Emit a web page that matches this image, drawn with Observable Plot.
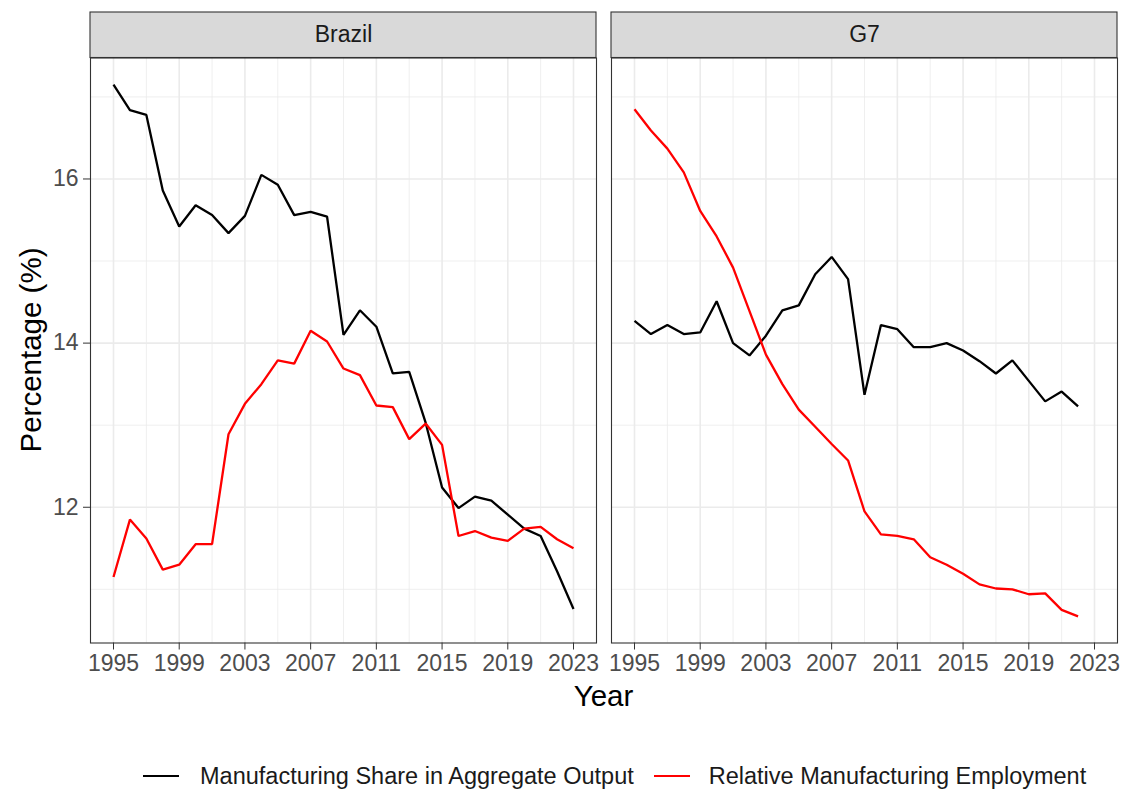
<!DOCTYPE html>
<html>
<head>
<meta charset="utf-8">
<script src="https://cdn.jsdelivr.net/npm/d3@7"></script>
<script src="https://cdn.jsdelivr.net/npm/@observablehq/plot@0.6"></script>
<style>
  html, body { margin: 0; padding: 0; background: #ffffff; }
  body { width: 1128px; height: 790px; position: relative; overflow: hidden;
         font-family: "Liberation Sans", Arial, sans-serif; }
  #chart { position: absolute; left: 0; top: 0; }
  #legend { position: absolute; left: 143px; top: 761px; height: 30px;
            display: flex; align-items: center; font-size: 23.5px; color: #1a1a1a; white-space: nowrap; }
  .key { width: 36px; height: 0; border-top: 2.4px solid #000; }
</style>
</head>
<body>
<div id="chart"></div>
<div id="legend"></div>
<script>
// ---- data ----
const regions = ["Brazil", "G7"];
const seriesNames = ["Manufacturing Share in Aggregate Output", "Relative Manufacturing Employment"];
const seriesColors = ["#000000", "#ff0000"];

const brazilYears = [1995, 1996, 1997, 1998, 1999, 2000, 2001, 2002, 2003, 2004, 2005, 2006, 2007, 2008, 2009,
                     2010, 2011, 2012, 2013, 2014, 2015, 2016, 2017, 2018, 2019, 2020, 2021, 2022, 2023];
const g7Years = [1995, 1996, 1997, 1998, 1999, 2000, 2001, 2002, 2003, 2004, 2005, 2006, 2007, 2008, 2009,
                 2010, 2011, 2012, 2013, 2014, 2015, 2016, 2017, 2018, 2019, 2020, 2021, 2022];

const brazilOutput = [17.15, 16.84, 16.78, 15.86, 15.42, 15.68, 15.56, 15.34, 15.55, 16.05, 15.93, 15.56, 15.60, 15.54, 14.10,
                      14.40, 14.20, 13.63, 13.65, 13.03, 12.24, 11.99, 12.13, 12.08, 11.91, 11.74, 11.65, 11.22, 10.76];
const brazilEmployment = [11.15, 11.85, 11.62, 11.24, 11.30, 11.55, 11.55, 12.89, 13.26, 13.50, 13.79, 13.75, 14.15, 14.02, 13.69,
                          13.61, 13.24, 13.22, 12.83, 13.02, 12.76, 11.65, 11.71, 11.63, 11.59, 11.74, 11.76, 11.61, 11.50];
const g7Output = [14.27, 14.11, 14.22, 14.11, 14.13, 14.51, 14.00, 13.85, 14.09, 14.40, 14.46, 14.84, 15.05, 14.78, 13.37,
                  14.22, 14.17, 13.95, 13.95, 14.00, 13.91, 13.78, 13.63, 13.79, 13.54, 13.29, 13.41, 13.23];
const g7Employment = [16.85, 16.59, 16.37, 16.08, 15.61, 15.30, 14.92, 14.39, 13.86, 13.50, 13.19, 12.98, 12.77, 12.57, 11.95,
                      11.67, 11.65, 11.61, 11.39, 11.30, 11.19, 11.06, 11.01, 11.00, 10.94, 10.95, 10.75, 10.67];

const xMajorTicks = [1995, 1999, 2003, 2007, 2011, 2015, 2019, 2023];
const xMinorTicks = [1997, 2001, 2005, 2009, 2013, 2017, 2021];
const yMajorTicks = [12, 14, 16];
const yMinorTicks = [11, 13, 15, 17];

// ---- build long table ----
const rows = [];
function add(region, series, years, values) {
  years.forEach((yr, i) => rows.push({region, series, year: yr, value: values[i]}));
}
add("Brazil", seriesNames[0], brazilYears, brazilOutput);
add("Brazil", seriesNames[1], brazilYears, brazilEmployment);
add("G7", seriesNames[0], g7Years, g7Output);
add("G7", seriesNames[1], g7Years, g7Employment);

const allVals = rows.map(d => d.value);
const yMin = d3.min(allVals), yMax = d3.max(allVals);
const yPad = (yMax - yMin) * 0.05;
const xPad = (2023 - 1995) * 0.05;

const W = 1128, H = 730;
const mTop = 57.5, mBottom = 87.5, mLeft = 89, mRight = 10;
const panelH = H - mTop - mBottom;

const font = "'Liberation Sans', Arial, sans-serif";

const plot = Plot.plot({
  width: W,
  height: H,
  marginTop: mTop,
  marginBottom: mBottom,
  marginLeft: mLeft,
  marginRight: mRight,
  style: {fontFamily: font, fontSize: "23px", background: "#ffffff", color: "#4d4d4d", overflow: "visible"},
  fx: {domain: regions, paddingInner: 0.0287, paddingOuter: 0, axis: null, label: null},
  x: {domain: [1995 - xPad, 2023 + xPad], label: null},
  y: {domain: [yMin - yPad, yMax + yPad], label: null},
  color: {domain: seriesNames, range: seriesColors},
  marks: [
    Plot.gridX(xMinorTicks, {stroke: "#ebebeb", strokeOpacity: 1, strokeWidth: 0.8}),
    Plot.gridY(yMinorTicks, {stroke: "#ebebeb", strokeOpacity: 1, strokeWidth: 0.8}),
    Plot.gridX(xMajorTicks, {stroke: "#ebebeb", strokeOpacity: 1, strokeWidth: 1.6}),
    Plot.gridY(yMajorTicks, {stroke: "#ebebeb", strokeOpacity: 1, strokeWidth: 1.6}),
    Plot.lineY(rows, {fx: "region", x: "year", y: "value", stroke: "series", z: "series", strokeWidth: 2.3, strokeLinejoin: "miter", strokeLinecap: "butt"}),
    // facet strips
    Plot.rect(regions, {fx: d => d, fill: "#d9d9d9", stroke: "#333333", strokeWidth: 1.1,
                        insetTop: -45.5, insetBottom: panelH}),
    Plot.frame({stroke: "#333333", strokeWidth: 1.1}),
    Plot.text(regions, {fx: d => d, text: d => d, frameAnchor: "top", lineAnchor: "middle", dy: -23.5,
                        fontSize: 23, fill: "#1a1a1a"}),
    Plot.axisX(xMajorTicks, {tickSize: 7, tickPadding: 5, tickFormat: d => String(d),
                             stroke: "#333333", fill: "#4d4d4d", fontSize: 23, label: null}),
    Plot.axisY(yMajorTicks, {tickSize: 7, tickPadding: 5, tickFormat: d => String(d),
                             stroke: "#333333", fill: "#4d4d4d", fontSize: 23, label: null})
  ]
});

// axis titles spanning both facets
const svg = d3.select(plot);
svg.append("text")
  .attr("x", mLeft + (W - mLeft - mRight) / 2)
  .attr("y", 695)
  .attr("text-anchor", "middle")
  .attr("dominant-baseline", "central")
  .attr("font-family", font)
  .attr("font-size", 29.5)
  .attr("fill", "#000000")
  .text("Year");
svg.append("text")
  .attr("transform", `translate(30,${mTop + panelH / 2}) rotate(-90)`)
  .attr("text-anchor", "middle")
  .attr("dominant-baseline", "central")
  .attr("font-family", font)
  .attr("font-size", 29.5)
  .attr("fill", "#000000")
  .text("Percentage (%)");

document.getElementById("chart").appendChild(plot);

// legend
const legend = d3.select("#legend");
seriesNames.forEach((name, i) => {
  legend.append("div").attr("class", "key")
    .style("border-top-color", seriesColors[i])
    .style("margin-right", i === 0 ? "21px" : "19px");
  legend.append("span").text(name).style("margin-right", i === 0 ? "20px" : "0px");
});
</script>
</body>
</html>
